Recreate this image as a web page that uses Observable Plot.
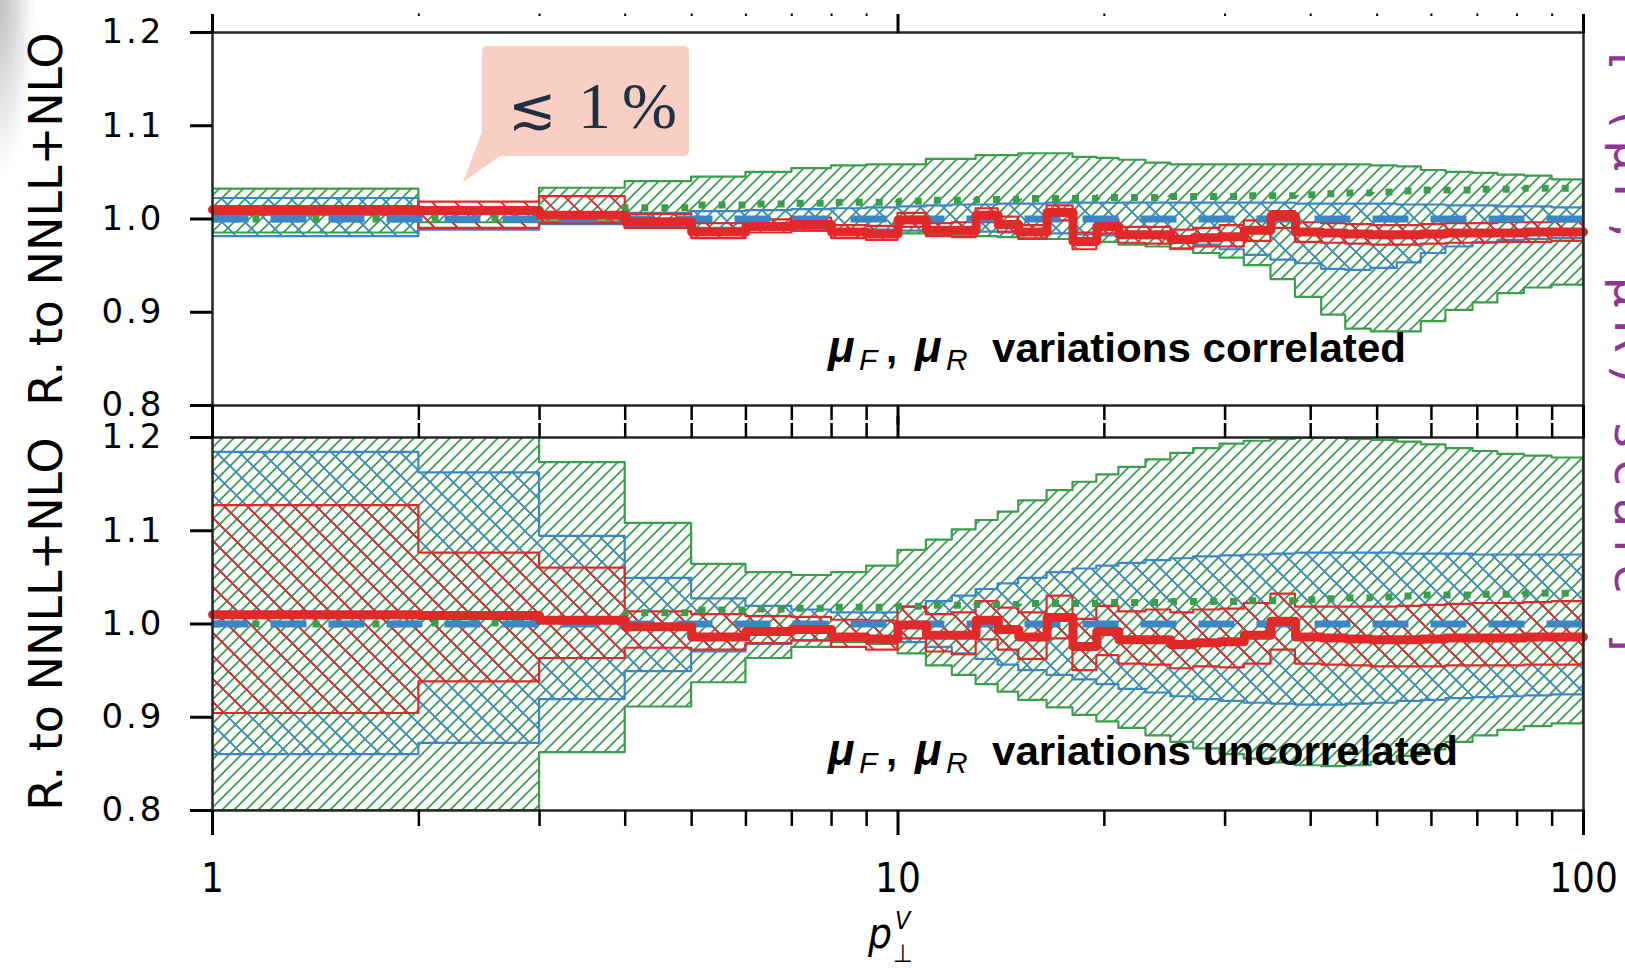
<!DOCTYPE html>
<html><head><meta charset="utf-8">
<script src="https://cdn.jsdelivr.net/npm/d3@7"></script>
<script src="https://cdn.jsdelivr.net/npm/@observablehq/plot@0.6"></script>
<style>
body{margin:0;background:#fff;}
#wrap{position:relative;width:1625px;height:968px;overflow:hidden;background:#fff;}
.panel{position:absolute;left:0;}
#overlay{position:absolute;left:0;top:0;pointer-events:none;}
#shadow{position:absolute;left:0;top:0;width:34px;height:170px;background:radial-gradient(ellipse at 0 0, rgba(175,175,175,0.8), rgba(255,255,255,0) 72%);}
</style></head>
<body><div id="wrap">
<div id="shadow"></div>
<svg width="0" height="0" style="position:absolute">
  <defs>
    <pattern id="hatchGreen" patternUnits="userSpaceOnUse" width="12" height="12">
      <path d="M-3,3 L3,-3 M0,12 L12,0 M9,15 L15,9" stroke="#3a9e4c" stroke-width="1.8" fill="none"/>
    </pattern>
    <pattern id="hatchBlue" patternUnits="userSpaceOnUse" width="23" height="23">
      <path d="M-5,18 L5,28 M0,0 L23,23 M18,-5 L28,5" stroke="#3b86c6" stroke-width="1.9" fill="none"/>
    </pattern>
    <pattern id="hatchRed" patternUnits="userSpaceOnUse" width="23" height="23">
      <path d="M-5,18 L5,28 M0,0 L23,23 M18,-5 L28,5" stroke="#e2292a" stroke-width="1.9" fill="none"/>
    </pattern>
  </defs>
</svg>
<div id="top" class="panel" style="top:0"></div>
<div id="bot" class="panel" style="top:420px"></div>
<svg id="overlay" width="1625" height="968">
  <rect x="482" y="46" width="207" height="110" rx="5" fill="#f9cfc3"/>
  <polygon points="482,132 463,182 500,156" fill="#f9cfc3"/>
  <text y="128" fill="#1d3142" font-family="Liberation Serif, DejaVu Serif, serif" font-size="66"><tspan x="508" font-family="DejaVu Sans, DejaVu Serif" font-size="58">≲</tspan><tspan x="578">1</tspan><tspan x="622">%</tspan></text>

  <g font-family="Liberation Sans, DejaVu Sans, sans-serif" fill="#000">
    <text x="828" y="362" font-size="44" font-weight="bold" font-style="italic">μ</text>
    <text x="859" y="370" font-size="30" font-style="italic">F</text>
    <text x="886" y="362" font-size="40" font-weight="bold">,</text>
    <text x="915" y="362" font-size="44" font-weight="bold" font-style="italic">μ</text>
    <text x="946" y="370" font-size="30" font-style="italic">R</text>
    <text x="992" y="362" font-size="40" font-weight="bold" textLength="414" lengthAdjust="spacingAndGlyphs">variations correlated</text>

    <text x="828" y="765" font-size="44" font-weight="bold" font-style="italic">μ</text>
    <text x="859" y="773" font-size="30" font-style="italic">F</text>
    <text x="886" y="765" font-size="40" font-weight="bold">,</text>
    <text x="915" y="765" font-size="44" font-weight="bold" font-style="italic">μ</text>
    <text x="946" y="773" font-size="30" font-style="italic">R</text>
    <text x="992" y="765" font-size="40" font-weight="bold" textLength="466" lengthAdjust="spacingAndGlyphs">variations uncorrelated</text>
  </g>

  <g font-family="DejaVu Sans Condensed, DejaVu Sans, sans-serif" fill="#000">
    <text x="868" y="948" font-size="42" font-style="italic">p</text>
    <text x="895" y="929" font-size="25" font-style="italic">V</text>
    <text x="893" y="962" font-size="25">⊥</text>
  </g>

  <text transform="translate(1615,52) rotate(90)" font-family="DejaVu Sans, sans-serif" font-size="48" fill="#8e3596" textLength="600" lengthAdjust="spacing">[ (μF, μR) scale ]</text>
</svg>
</div>
<script>
// ---- data: bin edges in p_T^V and per-bin values ----
const pTEdges = [1,2,3,4,5,6,7,8,9,10,11,12,13,14,15,16.5,18,19.5,21,23,25,27,29.5,32,35,38,41.5,45,49,53.5,58,63,69,75,82,90,100];

// central values (ratio to NNLL+NLO)
const greenCentral = [1.000,1.001,1.004,1.012,1.015,1.016,1.017,1.018,1.018,1.019,
  1.020,1.020,1.021,1.021,1.022,1.022,1.022,1.023,1.023,1.023,
  1.024,1.024,1.024,1.025,1.025,1.026,1.027,1.028,1.029,1.030,
  1.031,1.031,1.032,1.032,1.033,1.033];
const blueCentral = [1.0,1.0,1.0,1.0,1.0,1.0,1.0,1.0,1.0,1.0,
  1.0,1.0,1.0,1.0,1.0,1.0,1.0,1.0,1.0,1.0,
  1.0,1.0,1.0,1.0,1.0,1.0,1.0,1.0,1.0,1.0,
  1.0,1.0,1.0,1.0,1.0,1.0];
const redCentral = [1.010,1.009,1.004,0.997,0.986,0.992,0.994,0.986,0.984,0.999,
  0.988,0.988,1.004,0.994,0.986,1.007,0.976,0.992,0.983,0.983,
  0.978,0.980,0.981,0.988,1.003,0.986,0.985,0.984,0.983,0.983,
  0.984,0.985,0.985,0.985,0.986,0.986];

// correlated variations (top panel)
const greenHiCorr = [1.032,1.006,1.033,1.040,1.045,1.050,1.054,1.057,1.058,1.058,
  1.064,1.064,1.068,1.068,1.070,1.070,1.066,1.065,1.063,1.060,
  1.058,1.058,1.058,1.058,1.058,1.058,1.058,1.058,1.057,1.056,
  1.052,1.050,1.049,1.047,1.046,1.042];
const greenLoCorr = [0.985,0.996,0.997,0.990,0.988,0.988,0.987,0.986,0.985,0.984,
  0.983,0.982,0.981,0.980,0.979,0.978,0.977,0.975,0.972,0.970,
  0.967,0.963,0.958,0.950,0.935,0.916,0.897,0.882,0.879,0.879,
  0.890,0.902,0.910,0.920,0.926,0.929];
const blueHiCorr = [1.022,1.008,1.006,1.006,1.008,1.009,1.010,1.011,1.012,1.013,
  1.014,1.015,1.015,1.016,1.016,1.017,1.017,1.017,1.017,1.017,
  1.017,1.017,1.017,1.017,1.017,1.016,1.016,1.016,1.016,1.015,
  1.015,1.014,1.014,1.013,1.013,1.012];
const blueLoCorr = [0.981,0.988,0.994,0.992,0.990,0.990,0.989,0.988,0.988,0.987,
  0.987,0.986,0.986,0.985,0.985,0.984,0.983,0.982,0.981,0.979,
  0.976,0.972,0.967,0.961,0.956,0.952,0.946,0.945,0.947,0.953,
  0.963,0.970,0.975,0.977,0.978,0.979];
const redHiCorr = [1.013,1.018,1.024,1.005,0.995,0.999,1.001,0.993,0.992,1.006,
  0.995,0.996,1.011,1.002,0.993,1.014,0.985,0.999,0.991,0.991,
  0.988,0.990,0.993,0.998,1.008,0.996,0.995,0.994,0.993,0.993,
  0.994,0.995,0.995,0.996,0.996,0.997];
const redLoCorr = [1.004,0.990,0.995,0.990,0.979,0.985,0.987,0.979,0.977,0.991,
  0.981,0.980,0.996,0.986,0.978,0.998,0.967,0.984,0.974,0.973,
  0.968,0.970,0.970,0.976,0.990,0.975,0.974,0.973,0.972,0.972,
  0.973,0.974,0.974,0.975,0.975,0.976];

// uncorrelated variations (bottom panel)
const greenHiUncorr = [1.200,1.200,1.173,1.108,1.064,1.055,1.052,1.055,1.062,1.079,
  1.090,1.101,1.111,1.120,1.132,1.143,1.152,1.160,1.168,1.176,
  1.183,1.188,1.193,1.196,1.198,1.199,1.199,1.198,1.197,1.195,
  1.192,1.188,1.185,1.182,1.180,1.178];
const greenLoUncorr = [0.800,0.800,0.862,0.911,0.937,0.963,0.975,0.980,0.978,0.968,
  0.955,0.945,0.935,0.927,0.918,0.910,0.902,0.895,0.888,0.880,
  0.873,0.866,0.860,0.855,0.851,0.848,0.847,0.848,0.852,0.858,
  0.865,0.873,0.880,0.886,0.890,0.893];
const blueHiUncorr = [1.184,1.162,1.094,1.049,1.027,1.019,1.015,1.012,1.012,1.018,
  1.024,1.030,1.037,1.043,1.049,1.055,1.059,1.062,1.065,1.068,
  1.070,1.072,1.073,1.074,1.075,1.076,1.076,1.076,1.076,1.075,
  1.075,1.075,1.074,1.074,1.074,1.074];
const blueLoUncorr = [0.860,0.872,0.919,0.949,0.970,0.978,0.982,0.984,0.984,0.980,
  0.975,0.968,0.962,0.956,0.950,0.945,0.940,0.935,0.930,0.926,
  0.922,0.919,0.917,0.915,0.914,0.913,0.913,0.914,0.915,0.917,
  0.918,0.920,0.921,0.922,0.923,0.924];
const redHiUncorr = [1.127,1.076,1.060,1.013,1.010,1.008,1.007,1.004,1.003,1.018,
  1.010,1.012,1.024,1.017,1.012,1.030,1.005,1.019,1.013,1.015,
  1.012,1.015,1.016,1.022,1.032,1.018,1.018,1.018,1.018,1.019,
  1.020,1.021,1.022,1.022,1.023,1.024];
const redLoUncorr = [0.904,0.938,0.963,0.974,0.972,0.979,0.982,0.975,0.972,0.984,
  0.970,0.967,0.983,0.972,0.962,0.984,0.950,0.966,0.957,0.956,
  0.952,0.954,0.953,0.957,0.972,0.957,0.956,0.955,0.954,0.954,
  0.954,0.955,0.955,0.955,0.956,0.956];

// ticks
const xMajorTicks = [1, 10, 100];
const xMinorTicks = [2,3,4,5,6,7,8,9,20,30,40,50,60,70,80,90];
const yTicks = [0.8, 0.9, 1.0, 1.1, 1.2];
const yTitle = "R. to NNLL+NLO";

const GREEN = "#3a9e4c", BLUE = "#3b86c6", RED = "#e2292a";

// ---- build step tables from the arrays ----
function steps(values) {
  const rows = [];
  values.forEach((v, i) => { rows.push({x: pTEdges[i], y: v}); rows.push({x: pTEdges[i + 1], y: v}); });
  return rows;
}
function band(lo, hi) {
  const rows = [];
  lo.forEach((v, i) => {
    rows.push({x: pTEdges[i], lo: v, hi: hi[i]});
    rows.push({x: pTEdges[i + 1], lo: v, hi: hi[i]});
  });
  return rows;
}

function panel(opts) {
  const {gLo, gHi, bLo, bHi, rLo, rHi, height, marginTop, marginBottom, isTop} = opts;
  const noLabel = () => "";
  const marks = [
    Plot.areaY(band(gLo, gHi), {x: "x", y1: "lo", y2: "hi", fill: "url(#hatchGreen)", stroke: GREEN, strokeWidth: 2.2, clip: true}),
    Plot.areaY(band(bLo, bHi), {x: "x", y1: "lo", y2: "hi", fill: "url(#hatchBlue)", stroke: BLUE, strokeWidth: 2.2, clip: true}),
    Plot.areaY(band(rLo, rHi), {x: "x", y1: "lo", y2: "hi", fill: "url(#hatchRed)", stroke: RED, strokeWidth: 2.2, clip: true}),
    Plot.line(steps(greenCentral), {x: "x", y: "y", stroke: GREEN, strokeWidth: 7, strokeDasharray: "7,13", strokeLinecap: "butt", strokeLinejoin: "miter"}),
    Plot.line(steps(blueCentral), {x: "x", y: "y", stroke: BLUE, strokeWidth: 7, strokeDasharray: "36,22", strokeLinecap: "butt"}),
    Plot.line(steps(redCentral), {x: "x", y: "y", stroke: RED, strokeWidth: 9, strokeLinejoin: "round"}),
    Plot.frame({stroke: "#262626", strokeWidth: 2.5}),
    Plot.axisY({anchor: "left", ticks: yTicks, tickSize: 22, tickPadding: 26, tickFormat: ".1f", fontSize: 34, strokeWidth: 3, label: null}),
    Plot.text([yTitle], {text: d => d, frameAnchor: "left", textAnchor: "middle", lineAnchor: "middle", dx: -165, rotate: -90, fontSize: 46, fontFamily: "DejaVu Sans, sans-serif"})
  ];
  if (isTop) {
    marks.push(
      Plot.axisX({anchor: "top", ticks: xMajorTicks, tickSize: 19, strokeWidth: 3, tickFormat: noLabel, label: null}),
      Plot.axisX({anchor: "top", ticks: xMinorTicks, tickSize: 2.5, dy: -17, strokeWidth: 2, tickFormat: noLabel, label: null}),
      Plot.axisX({anchor: "bottom", ticks: xMajorTicks, tickSize: 20, strokeWidth: 3, tickFormat: noLabel, label: null}),
      Plot.axisX({anchor: "bottom", ticks: xMinorTicks, tickSize: 15, strokeWidth: 2.5, tickFormat: noLabel, label: null})
    );
  } else {
    marks.push(
      Plot.axisX({anchor: "top", ticks: xMajorTicks, tickSize: 22, strokeWidth: 3, tickFormat: noLabel, label: null}),
      Plot.axisX({anchor: "top", ticks: xMinorTicks, tickSize: 15, strokeWidth: 2.5, tickFormat: noLabel, label: null}),
      Plot.axisX({anchor: "bottom", ticks: xMajorTicks, tickSize: 25, tickPadding: 28, strokeWidth: 3, tickFormat: d => String(d), fontSize: 40, fontFamily: "DejaVu Sans Condensed, DejaVu Sans, sans-serif", label: null}),
      Plot.axisX({anchor: "bottom", ticks: xMinorTicks, tickSize: 16, strokeWidth: 2.5, tickFormat: noLabel, label: null})
    );
  }
  const svg = Plot.plot({
    width: 1625, height, marginLeft: 212, marginRight: 42, marginTop, marginBottom,
    x: {type: "log", domain: [1, 100], axis: null},
    y: {domain: [0.8, 1.2], axis: null},
    style: {fontFamily: "DejaVu Sans, sans-serif", background: "transparent", overflow: "visible", color: "#000"},
    marks
  });
  d3.select(svg).selectAll('[aria-label="y-axis tick label"] text').style("letter-spacing", "3px");
  return svg;
}

document.getElementById("top").append(panel({
  gLo: greenLoCorr, gHi: greenHiCorr, bLo: blueLoCorr, bHi: blueHiCorr, rLo: redLoCorr, rHi: redHiCorr,
  height: 420, marginTop: 32, marginBottom: 15, isTop: true
}));
document.getElementById("bot").append(panel({
  gLo: greenLoUncorr, gHi: greenHiUncorr, bLo: blueLoUncorr, bHi: blueHiUncorr, rLo: redLoUncorr, rHi: redHiUncorr,
  height: 548, marginTop: 17, marginBottom: 158, isTop: false
}));
</script>
</body></html>
